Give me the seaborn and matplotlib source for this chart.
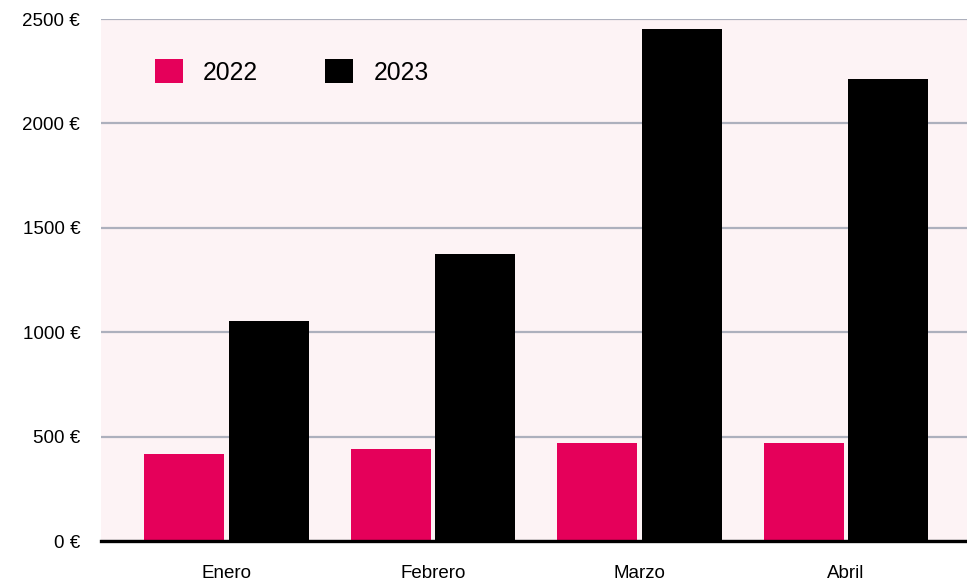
import matplotlib
matplotlib.use("Agg")
import matplotlib.pyplot as plt
import seaborn as sns
import pandas as pd
from matplotlib.ticker import FuncFormatter, MultipleLocator

months = ["Enero", "Febrero", "Marzo", "Abril"]
sales_2022 = [417, 441, 470, 470]
sales_2023 = [1055, 1376, 2454, 2215]
years = ["2022", "2023"]
colors = ["#E5005A", "#000000"]

df = pd.DataFrame({
    "Mes": months * 2,
    "Año": [years[0]] * len(months) + [years[1]] * len(months),
    "Ventas": sales_2022 + sales_2023,
})

sns.set_theme(style="white")
plt.rcParams["font.family"] = ["Liberation Sans", "DejaVu Sans"]

fig = plt.figure(figsize=(9.67, 5.83), dpi=100)
ax = fig.add_axes([101 / 967, 1 - 541 / 583, 1 - 101 / 967, (541 - 19) / 583])
ax.set_facecolor("#FDF3F5")

sns.barplot(data=df, x="Mes", y="Ventas", hue="Año", palette=colors,
            width=0.82, gap=0.055, saturation=1, errorbar=None, ax=ax,
            linewidth=0, edgecolor="none", zorder=3)

ax.set_ylim(0, 2500)
ax.set_xlim(-0.608, 3.586)
ax.yaxis.set_major_locator(MultipleLocator(500))
ax.yaxis.set_major_formatter(FuncFormatter(lambda v, _: f"{v:.0f} €"))
ax.grid(axis="y", color="#ADB0BD", linewidth=1.6, zorder=1)
ax.grid(axis="x", visible=False)
ax.set_axisbelow(True)

for side in ["top", "right", "left"]:
    ax.spines[side].set_visible(False)
ax.spines["bottom"].set_color("black")
ax.spines["bottom"].set_linewidth(2.4)
ax.spines["bottom"].set_zorder(5)

ax.tick_params(axis="y", length=0, pad=15, labelsize=13.5, labelcolor="#000000")
ax.tick_params(axis="x", length=0, pad=17, labelsize=13.5, labelcolor="#000000")
ax.set_xlabel("")
ax.set_ylabel("")

handles, labels = ax.get_legend_handles_labels()
ax.legend(handles, labels, loc="upper left", bbox_to_anchor=(0.0625, 0.923),
          ncol=2, frameon=False, fontsize=17.8, handlelength=1.12,
          handleheight=1.12, handletextpad=0.82, columnspacing=2.72,
          borderaxespad=0, borderpad=0, labelcolor="#000000")

fig.savefig("out.png", dpi=100)
